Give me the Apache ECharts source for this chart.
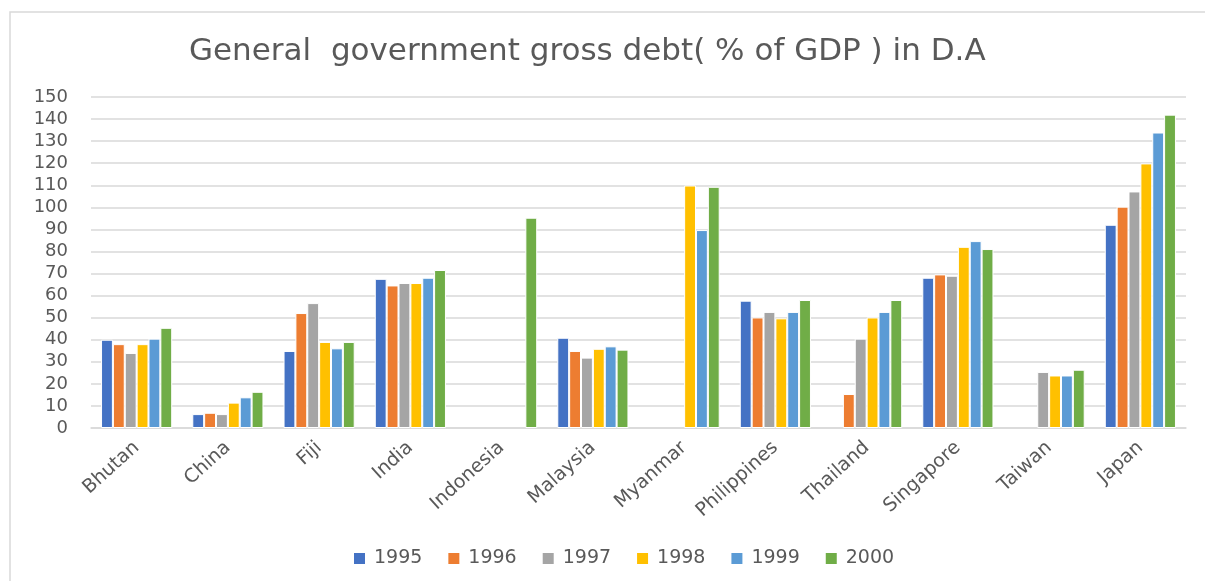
<!DOCTYPE html>
<html>
<head>
<meta charset="utf-8">
<script src="https://cdn.jsdelivr.net/npm/echarts@6/dist/echarts.min.js"></script>
<style>
  html, body { margin: 0; padding: 0; background: #fff; }
  #chart { width: 1205px; height: 581px; }
</style>
</head>
<body>
<div id="chart"></div>
<script>
// Countries on the category axis
const countries = ['Bhutan', 'China', 'Fiji', 'India', 'Indonesia', 'Malaysia', 'Myanmar',
  'Philippines', 'Thailand', 'Singapore', 'Taiwan', 'Japan'];

// Gross debt (% of GDP) per year; null where no figure is reported
const y1995 = [40.0, 6.3, 34.9, 67.6, null, 40.9, null, 57.7, null, 68.1, null, 92.1];
const y1996 = [38.0, 6.9, 52.1, 64.6, null, 34.9, null, 50.1, 15.4, 69.6, null, 100.3];
const y1997 = [34.0, 6.3, 56.6, 65.7, null, 31.9, null, 52.6, 40.5, 69.0, 25.4, 107.2];
const y1998 = [38.0, 11.5, 39.0, 65.7, null, 35.9, 109.9, 49.7, 50.1, 82.1, 23.8, 119.9];
const y1999 = [40.5, 13.9, 36.1, 68.1, null, 37.0, 89.7, 52.6, 52.6, 84.7, 23.8, 133.9];
const y2000 = [45.4, 16.4, 39.0, 71.6, 95.3, 35.5, 109.3, 58.0, 58.0, 81.1, 26.4, 142.0];

const years = ['1995', '1996', '1997', '1998', '1999', '2000'];
const yearValues = [y1995, y1996, y1997, y1998, y1999, y2000];
const palette = ['#4472C4', '#ED7D31', '#A5A5A5', '#FFC000', '#5B9BD5', '#70AD47'];

const textGray = '#595959';
const fontFam = 'DejaVu Sans, sans-serif';

const chart = echarts.init(document.getElementById('chart'), null, { renderer: 'canvas' });

chart.setOption({
  animation: false,
  color: palette,
  graphic: [{
    type: 'rect',
    shape: { x: 10, y: 12, width: 1220, height: 600 },
    style: { fill: 'none', stroke: '#d9d9d9', lineWidth: 1.5 },
    silent: true,
    z: -1
  }],
  title: {
    text: 'General  government gross debt( % of GDP ) in D.A',
    left: 184,
    top: 31,
    textStyle: { color: textGray, fontFamily: fontFam, fontSize: 31, fontWeight: 'normal' }
  },
  legend: {
    data: years,
    bottom: 8,
    left: 347,
    itemWidth: 13,
    itemHeight: 13,
    itemGap: 24,
    icon: 'rect',
    textStyle: { color: textGray, fontFamily: fontFam, fontSize: 19, padding: [0, 0, 0, 3] }
  },
  grid: { left: 91, right: 19, top: 97, bottom: 153, containLabel: false },
  xAxis: {
    type: 'category',
    data: countries,
    axisLine: { lineStyle: { color: '#d9d9d9', width: 1.5 } },
    axisTick: { show: false },
    axisLabel: {
      rotate: 42,
      color: textGray,
      fontFamily: fontFam,
      fontSize: 19,
      margin: 17,
      interval: 0
    }
  },
  yAxis: {
    type: 'value',
    min: 0,
    max: 150,
    interval: 10,
    axisLine: { show: false },
    axisTick: { show: false },
    splitLine: { lineStyle: { color: '#d9d9d9', width: 1.5 } },
    axisLabel: { color: textGray, fontFamily: fontFam, fontSize: 18, margin: 23 }
  },
  series: years.map((yr, i) => ({
    name: yr,
    type: 'bar',
    data: yearValues[i],
    barGap: '0%',
    barCategoryGap: '22%',
    itemStyle: { borderColor: '#ffffff', borderWidth: 1 }
  }))
});
</script>
</body>
</html>
